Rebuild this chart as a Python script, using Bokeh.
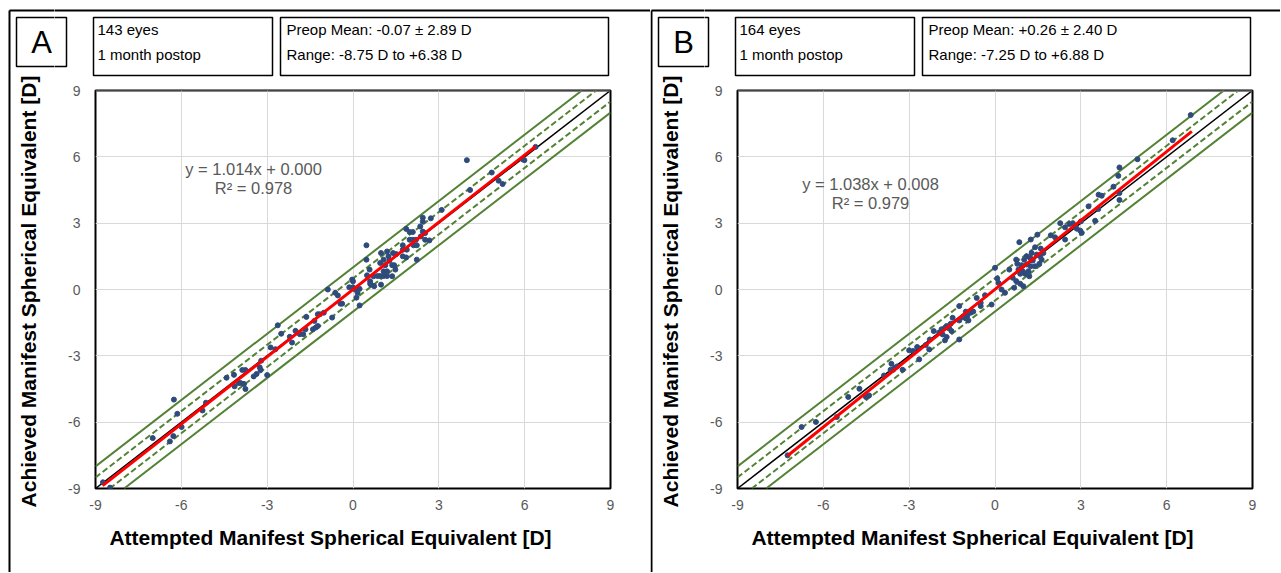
from bokeh.plotting import figure
from bokeh.models import Range1d, FixedTicker, Label, Span
from bokeh.layouts import row, column
from bokeh.core.properties import value
from bokeh.embed import file_html
from bokeh.resources import INLINE

# ---------------- data ----------------
ticks = [-9, -6, -3, 0, 3, 6, 9]
tick_labels = {t: str(t) for t in ticks}

a_x = [3.98, 4.09, 3.10, 2.72, 2.44, 2.44, 2.35, 1.86, 1.98, 2.09, 2.44, 2.52, 2.37, 1.98, 2.09, 2.20,
       2.52, 2.67, 1.74, 2.12, 2.23, 0.47, 1.74, 1.88, 0.98, 1.19, 1.40, 1.51, 1.24, 1.74, 1.86, 2.23,
       0.47, 1.07, 1.27, 0.95, 1.13, 1.37, 1.44, 0.58, 1.48, 1.07, 1.19, 0.49, 0.72, 0.86, 0.95, 1.07,
       1.19, 1.37, -0.03, 0.00, 0.60, 0.63, 0.74, 0.98, -0.13, 0.00, 0.08, -0.53, 0.16, 0.12, -0.88,
       -0.62, -0.44, -0.38, 0.23, -1.02, -1.23, -1.16, -1.63, -0.73, -1.35, -2.63, -1.23, -1.40, -1.30,
       -1.66, -2.01, -2.51, -2.21, -1.86, -1.74, -2.13, -2.88, -2.71, -3.21, -3.26, -3.23, -3.37, -3.47,
       -3.00, -3.87, -3.76, -3.93, -3.81, -3.76, -6.26, -6.14, -6.28, -6.40, -5.99, -7.00, -5.26, -5.14,
       -8.74, -8.49, -4.42, -4.16, -4.14, -4.00, 4.85, 5.09, 5.23, 5.93, 5.99, 6.38, 0.23, 0.60]
a_y = [5.85, 4.50, 3.60, 3.22, 3.25, 3.07, 2.85, 2.74, 2.60, 2.60, 2.62, 2.55, 2.40, 2.25, 2.25, 2.25,
       2.25, 2.22, 2.00, 2.00, 2.00, 2.00, 1.80, 1.80, 1.65, 1.72, 1.65, 1.60, 1.50, 1.50, 1.45, 1.35,
       1.35, 1.35, 1.30, 1.20, 1.10, 1.10, 1.10, 0.90, 0.90, 0.82, 0.82, 0.64, 0.60, 0.61, 0.61, 0.61,
       0.61, 0.60, 0.45, 0.37, 0.37, 0.22, 0.15, 0.22, 0.10, 0.10, 0.00, -0.27, -0.15, -0.37, 0.00,
       -0.15, -0.64, -0.64, -0.72, -1.05, -1.12, -1.12, -1.24, -1.27, -1.42, -1.62, -1.65, -1.80, -1.72,
       -1.80, -1.87, -2.00, -2.14, -2.02, -2.02, -2.40, -2.62, -2.70, -3.22, -3.52, -3.64, -3.82, -3.93,
       -3.87, -3.64, -3.64, -4.23, -4.27, -4.50, -4.98, -5.62, -6.63, -6.87, -6.22, -6.72, -5.47, -5.12,
       -8.72, -8.96, -3.99, -3.86, -4.38, -4.23, 5.29, 4.92, 4.77, 5.89, 5.85, 6.45, 0.03, 0.26]

b_x = [4.35, 4.35, 3.62, 3.27, 3.50, 3.00, 2.72, 2.60, 2.28, 2.45, 2.80, 2.86, 2.98, 3.03, 1.95, 2.10,
       2.45, 1.48, 1.25, 0.85, 1.40, 1.60, 1.69, 1.28, 1.46, 1.11, 1.23, 1.58, 0.74, 1.02, 1.32, 1.63,
       1.55, 0.78, 0.93, 1.11, 1.25, 1.40, 0.00, 0.50, 0.82, 0.97, 1.17, 0.88, 1.05, 1.20, 0.08, 0.12,
       0.62, 0.74, 0.88, 0.67, 0.99, 0.23, 0.35, -0.64, -0.35, -0.50, -0.50, -0.12, -1.25, -1.02, -0.97,
       -0.85, -0.76, -1.13, -1.02, -0.93, -1.25, -1.48, -1.55, -1.69, -1.75, -1.60, -1.52, -1.87, -1.95,
       -2.14, -1.83, -1.69, -1.75, -1.25, -2.28, -2.42, -2.30, -2.72, -3.00, -2.65, -2.86, -3.62, -3.50,
       -3.65, -3.56, -3.23, -3.42, -3.88, -6.76, -6.26, -5.53, -5.13, -4.74, -4.51, -4.40, -7.25, 6.84,
       6.21, 4.98, 4.31, 4.35, 4.14, 3.73, 3.61]
b_y = [5.52, 4.36, 4.29, 3.76, 3.11, 3.08, 3.00, 2.96, 3.00, 2.81, 2.86, 2.75, 2.66, 2.56, 2.45, 2.36,
       2.26, 2.48, 2.26, 2.14, 1.91, 1.85, 1.65, 1.65, 1.58, 1.50, 1.43, 1.50, 1.35, 1.35, 1.31, 1.35,
       1.16, 1.16, 1.10, 1.13, 1.05, 1.05, 0.98, 0.90, 0.90, 0.83, 0.83, 0.71, 0.71, 0.60, 0.50, 0.30,
       0.53, 0.38, 0.26, 0.08, 0.15, 0.00, -0.15, -0.38, -0.26, -0.60, -0.75, -0.68, -0.75, -1.00, -1.20,
       -1.05, -1.00, -1.25, -1.31, -1.40, -1.40, -1.28, -1.55, -1.65, -1.73, -1.76, -1.88, -1.80, -1.95,
       -1.88, -2.03, -2.15, -2.30, -2.26, -2.26, -2.51, -2.71, -2.60, -2.75, -3.16, -2.78, -3.36, -3.54,
       -3.63, -3.63, -3.63, -3.48, -3.89, -6.22, -5.99, -5.77, -4.86, -4.49, -4.86, -4.79, -7.50, 7.89,
       6.75, 5.89, 5.14, 4.05, 4.65, 4.24, 3.64]

letters = ["A", "B"]
eyes_text = ["143 eyes", "164 eyes"]
postop_text = ["1 month postop", "1 month postop"]
preop_text = ["Preop Mean: -0.07 \u00b1 2.89 D", "Preop Mean: +0.26 \u00b1 2.40 D"]
range_text = ["Range: -8.75 D to  +6.38 D", "Range: -7.25 D to  +6.88 D"]
slopes = [1.014, 1.038]
intercepts = [0.000, 0.008]
r_squared = [0.978, 0.979]
att_min = [-8.75, -7.25]
att_max = [6.38, 6.88]
band_inner = 0.5
band_outer = 1.0
x_title = "Attempted Manifest Spherical Equivalent [D]"
y_title = "Achieved Manifest Spherical Equivalent [D]"

# ---------------- layout (page pixels) ----------------
FONT = "Liberation Sans"
GREEN = "#548235"
PANEL_SHIFT = 642          # reference panels are 642 px apart
FRAME_L, FRAME_T, FW, FH = 95, 90, 515, 398
HEAD_H = 79
STRIP_W = 54
RSTRIP_W = 10
MAIN_H = 434
BOT_H = 59
TOTAL_H = HEAD_H + MAIN_H + BOT_H


def deco(ox, oy, w, h):
    f = figure(width=w, height=h, x_range=Range1d(ox, ox + w), y_range=Range1d(oy + h, oy),
               output_backend="svg", toolbar_location=None,
               x_axis_location=None, y_axis_location=None,
               min_border_left=0, min_border_right=0, min_border_top=0, min_border_bottom=0)
    f.outline_line_color = None
    f.grid.grid_line_color = None
    f.background_fill_color = "white"
    f.border_fill_color = "white"
    return f


def draw_header_bits(f, i, s, in_strip):
    # panel border (top + left)
    f.line([s + 9, s + 2000], [10, 10], line_color="black", line_width=2)
    f.line([s + 9, s + 9], [10, TOTAL_H + 10], line_color="black", line_width=2)
    # header boxes
    f.quad(left=[s + 16, s + 93, s + 280], right=[s + 66, s + 272, s + 608],
           top=[17, 17, 17], bottom=[66, 75, 75],
           fill_color=None, line_color="black", line_width=1.5)
    if in_strip:
        f.text(x=[s + 41], y=[42], text=[letters[i]], text_font=value(FONT),
               text_font_size=value("31px"), text_align="center", text_baseline="middle",
               text_color="black")
    else:
        f.text(x=[s + 97, s + 97, s + 286, s + 286], y=[29, 54, 29, 54],
               text=[eyes_text[i], postop_text[i], preop_text[i], range_text[i]],
               text_font=value(FONT), text_font_size=value("15px"), text_align="left",
               text_baseline="middle", text_color="black")


def make_panel(i, ox, pw, xs, ys, eq_cx, eq_cy):
    s = PANEL_SHIFT * i

    # full-height left strip: border, letter box, y title
    strip = deco(ox, 0, STRIP_W, TOTAL_H)
    draw_header_bits(strip, i, s, True)
    strip.text(x=[s + 28], y=[291], text=[y_title], angle=1.5707963,
               text_font=value(FONT), text_font_size=value("21px"), text_font_style="bold",
               text_align="center", text_baseline="middle", text_color="black")

    mx = ox + STRIP_W
    mw = pw - STRIP_W

    # header to the right of the strip
    head = deco(mx, 0, mw, HEAD_H)
    draw_header_bits(head, i, s, False)

    # main chart
    fl = s + FRAME_L
    pwid = mw - RSTRIP_W
    p = figure(width=pwid, height=MAIN_H, x_range=Range1d(-9, 9), y_range=Range1d(-9, 9),
               output_backend="svg", toolbar_location=None,
               min_border_left=fl - mx, min_border_top=FRAME_T - HEAD_H,
               min_border_right=pwid - (fl - mx) - FW,
               min_border_bottom=MAIN_H - (FRAME_T - HEAD_H) - FH)
    p.background_fill_color = "white"
    p.border_fill_color = "white"
    p.outline_line_color = "black"
    p.outline_line_width = 2
    for ax in (p.xaxis[0], p.yaxis[0]):
        ax.ticker = FixedTicker(ticks=ticks)
        ax.major_label_overrides = tick_labels
        ax.major_tick_line_color = None
        ax.minor_tick_line_color = None
        ax.major_tick_out = 0
        ax.minor_tick_out = 0
        ax.axis_line_color = None
        ax.major_label_text_font = FONT
        ax.major_label_text_font_size = "14px"
        ax.major_label_text_color = "#595959"
    p.xaxis[0].major_label_standoff = 11
    p.yaxis[0].major_label_standoff = 15
    p.grid.grid_line_color = "#d9d9d9"
    p.grid.grid_line_width = 1

    for off, dash in [(band_outer, "solid"), (-band_outer, "solid"),
                      (band_inner, "6 3"), (-band_inner, "6 3")]:
        x0 = -9 if off > 0 else -9 - off
        x1 = 9 - off if off > 0 else 9
        p.line([x0, x1], [x0 + off, x1 + off], line_color=GREEN, line_width=2, line_dash=dash)
    p.line([-9, 9], [-9, 9], line_color="black", line_width=1.5)

    p.scatter(xs, ys, size=5, fill_color="#2f4b7c", line_color="#2f4b7c")

    rx = [att_min[i], att_max[i]]
    ry = [slopes[i] * v + intercepts[i] for v in rx]
    p.line(rx, ry, line_color="#ff0000", line_width=3)

    p.add_layout(Span(location=9, dimension="width", line_color="#8c8c8c", line_width=2))

    def dx(px):
        return -9 + (px - fl) * 18.0 / FW

    def dy(py):
        return 9 - (py - FRAME_T) * 18.0 / FH

    p.add_layout(Label(x=dx(s + eq_cx), y=dy(eq_cy),
                       text="y = %.3fx + %.3f" % (slopes[i], intercepts[i]),
                       text_align="center", text_baseline="middle", text_font=FONT,
                       text_font_size="16.5px", text_color="#595959"))
    p.add_layout(Label(x=dx(s + eq_cx), y=dy(eq_cy + 19), text="R\u00b2 = %.3f" % r_squared[i],
                       text_align="center", text_baseline="middle", text_font=FONT,
                       text_font_size="16.5px", text_color="#595959"))

    rstrip = deco(mx + pwid, HEAD_H, RSTRIP_W, MAIN_H)

    # bottom strip with x title
    bot = deco(mx, HEAD_H + MAIN_H, mw, BOT_H)
    bot.text(x=[s + 330], y=[537], text=[x_title],
             text_font=value(FONT), text_font_size=value("21px"), text_font_style="bold",
             text_align="center", text_baseline="middle", text_color="black")

    return row(strip, column(head, row(p, rstrip), bot))


panelA = make_panel(0, 0, 650, a_x, a_y, 253, 168)
panelB = make_panel(1, 650, 630, b_x, b_y, 228, 183)

layout = row(panelA, panelB)
open("out.html", "w").write(file_html(layout, INLINE))
